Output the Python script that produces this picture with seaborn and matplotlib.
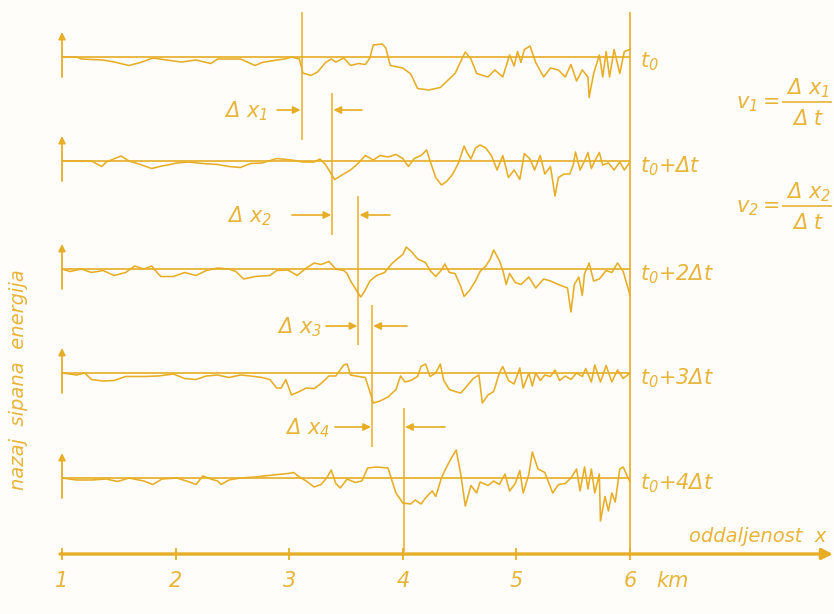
import matplotlib
matplotlib.use("Agg")
import matplotlib.pyplot as plt
import numpy as np
import pandas as pd
import seaborn as sns

# backscattered energy traces:
# position along the path (km) and energy relative to each trace's zero line
t0_km = [1.00, 1.13, 1.17, 1.36, 1.46, 1.59, 1.69, 1.80, 1.92, 2.05, 2.18, 2.31, 2.37, 2.57, 2.70,
         2.76, 2.89, 2.96, 3.02, 3.09, 3.12, 3.19, 3.25, 3.32, 3.37, 3.41, 3.48, 3.54, 3.61, 3.67,
         3.71, 3.74, 3.82, 3.85, 3.89, 4.00, 4.07, 4.13, 4.23, 4.33, 4.39, 4.46, 4.52, 4.55, 4.60,
         4.65, 4.75, 4.81, 4.88, 4.94, 4.98, 5.01, 5.04, 5.07, 5.12, 5.17, 5.24, 5.30, 5.37, 5.43,
         5.48, 5.53, 5.58, 5.63, 5.64, 5.68, 5.73, 5.76, 5.79, 5.82, 5.86, 5.91, 5.95, 6.00]
t0_e = [0, 0, -2, -3, -5, -8.5, -5.5, -1, -3, -5, -3, -6.5, -2, -2, -8.5,
        -5.5, -3, -2, 0, -2, -16, -18.5, -15, -5.5, -2, -5, -1, -8.5, -6.5, -7.5,
        -1, 12, 13, 9, -8.5, -11, -17, -31.5, -33, -30.5, -24, -16.5, -2, 5, -2,
        -16.5, -20, -13, -20, 2, -9, 5.5, -5.5, 7.5, 11, -5.5, -20, -11, -13, -20,
        -7.5, -24, -13, -20, -40.5, -16.5, 2, -20, 5.5, -20, 7.5, -16.5, 5.5, 7.5]

t1_km = [1.00, 1.13, 1.26, 1.35, 1.39, 1.52, 1.59, 1.69, 1.79, 1.88, 1.95, 2.01, 2.11, 2.24, 2.37,
         2.47, 2.57, 2.66, 2.76, 2.89, 3.02, 3.12, 3.22, 3.27, 3.32, 3.37, 3.40, 3.45, 3.54, 3.61,
         3.67, 3.74, 3.80, 3.87, 3.94, 4.00, 4.05, 4.10, 4.16, 4.21, 4.24, 4.29, 4.34, 4.39, 4.44,
         4.49, 4.54, 4.57, 4.60, 4.64, 4.68, 4.73, 4.78, 4.83, 4.88, 4.93, 4.98, 5.03, 5.07, 5.12,
         5.16, 5.21, 5.25, 5.30, 5.34, 5.37, 5.42, 5.47, 5.50, 5.52, 5.56, 5.60, 5.63, 5.66, 5.69,
         5.73, 5.76, 5.81, 5.86, 5.91, 5.95, 6.00]
t1_e = [0, 0, 0, -5.5, -1, 5, 0, -3.5, -7.5, -5, -3.5, -2, -1, -2.5, -3.5,
        -5.5, -6.5, -2.5, -2, 2.5, 1, -1, -1, 2, -3.5, -13, -18.5, -15, -9, -2,
        5.5, 1, 5.5, 4, 6.5, 2.5, -5.5, 2.5, 5.5, 11, 0, -16.5, -24, -20, -13,
        -2, 15, 7.5, 2, 13, 16, 13, 5.5, -9, 5.5, -16.5, -9, -18.5, 7.5, 2,
        -9, 5.5, -13, -5.5, -35, -16.5, -13, -13, -4, 9, -9, 0, 8.5, -7.5, 0,
        8.5, -4, -2, -9, -1, -9, -1]

t2_km = [1.00, 1.07, 1.17, 1.26, 1.36, 1.46, 1.56, 1.64, 1.72, 1.79, 1.83, 1.87, 1.98, 2.08, 2.18,
         2.27, 2.37, 2.47, 2.53, 2.60, 2.70, 2.83, 2.89, 2.99, 3.07, 3.15, 3.22, 3.28, 3.35, 3.41,
         3.48, 3.51, 3.54, 3.59, 3.63, 3.66, 3.71, 3.77, 3.84, 3.90, 3.95, 4.00, 4.03, 4.08, 4.13,
         4.20, 4.24, 4.29, 4.34, 4.37, 4.41, 4.46, 4.51, 4.54, 4.59, 4.64, 4.68, 4.73, 4.77, 4.80,
         4.85, 4.88, 4.91, 4.94, 4.99, 5.04, 5.11, 5.17, 5.24, 5.30, 5.37, 5.45, 5.48, 5.51, 5.55,
         5.58, 5.60, 5.63, 5.64, 5.68, 5.73, 5.79, 5.84, 5.89, 5.94, 6.00]
t2_e = [0, -2.5, 0, -3.5, -1.5, -6.5, -3.5, 3, 0, 3, -2.5, -7.5, -7.5, -3.5, -6.5,
        -1.5, 1, 0, -2.5, -10, -7.5, -6.5, -1.5, -1, -6.5, 1, 6, 4.5, 7.5, 0,
        -1.5, -4.5, -12, -21, -28, -23, -12, -6.5, -3.5, 5, 10, 14.5, 22, 17, 10,
        6.5, -1.5, -7.5, -1, 5, -3.5, -4.5, -17.5, -27.5, -21, -12, -2.5, 3, 10, 19,
        8.5, -1, -15.5, -4.5, -13.5, -15.5, -8, -19, -10, -12, -15.5, -19, -43, -15.5, -8,
        -26.5, -4.5, 3, 6, -12, -10, -1.5, -3.5, 6, -2.5, -26]

t3_km = [1.00, 1.07, 1.13, 1.20, 1.26, 1.36, 1.46, 1.56, 1.72, 1.85, 1.98, 2.08, 2.18, 2.27, 2.37,
         2.47, 2.57, 2.66, 2.76, 2.83, 2.89, 2.93, 2.97, 3.02, 3.09, 3.15, 3.22, 3.28, 3.35, 3.41,
         3.48, 3.51, 3.54, 3.61, 3.67, 3.71, 3.74, 3.80, 3.87, 3.94, 3.98, 4.02, 4.07, 4.13, 4.16,
         4.20, 4.24, 4.29, 4.33, 4.36, 4.41, 4.46, 4.51, 4.55, 4.62, 4.67, 4.70, 4.75, 4.80, 4.85,
         4.88, 4.93, 4.98, 5.03, 5.06, 5.11, 5.14, 5.17, 5.21, 5.25, 5.30, 5.34, 5.38, 5.43, 5.48,
         5.53, 5.58, 5.61, 5.66, 5.69, 5.74, 5.79, 5.84, 5.89, 5.94, 6.00]
t3_e = [0, -1, -2, 0, -6.5, -8, -7.5, -3.5, -3.5, -3, -1, -5.5, -6.5, -3, -2,
        -4.5, -2, -3, -4.5, -6.5, -15, -15, -6.5, -22, -18.5, -15, -15.5, -10.5, -3, -3,
        8, 9, -2, -3.5, -4.5, -18.5, -30, -28, -24, -16.5, -3, -9, -7.5, -3.5, 6.5,
        9, -3.5, 0, 9, -7.5, -16.5, -18.5, -20, -15, -5.5, -2, -30, -22, -18.5, 0,
        6.5, -7.5, -11, 5, -15, 0, -13, 0, -7.5, -2, -3.5, 3, -7.5, -3, -6.5,
        0, -3.5, 4.5, -9, 8, -9, 7.5, -9, 3, -5.5, 0]

t4_km = [1.00, 1.13, 1.26, 1.39, 1.49, 1.59, 1.72, 1.80, 1.88, 2.01, 2.11, 2.18, 2.24, 2.31, 2.37,
         2.40, 2.47, 2.57, 2.70, 2.86, 2.99, 3.04, 3.09, 3.15, 3.22, 3.28, 3.33, 3.37, 3.41, 3.45,
         3.51, 3.58, 3.64, 3.69, 3.77, 3.87, 3.90, 3.94, 4.00, 4.07, 4.11, 4.16, 4.21, 4.26, 4.29,
         4.34, 4.37, 4.42, 4.47, 4.51, 4.55, 4.60, 4.65, 4.68, 4.75, 4.80, 4.85, 4.90, 4.94, 4.99,
         5.03, 5.06, 5.11, 5.14, 5.19, 5.25, 5.32, 5.37, 5.43, 5.48, 5.53, 5.56, 5.60, 5.63, 5.66,
         5.69, 5.73, 5.74, 5.78, 5.81, 5.84, 5.87, 5.91, 5.94, 6.00]
t4_e = [0, -2, -2, -1, -3.5, 0, -3, -6.5, -1, 0, -3.5, -6.5, 2, -1, -3,
        -6.5, -2, 0, 1, 3, 4.5, 5.5, 1, -3, -9, -6.5, 0, 8, -5.5, -10,
        -1, -4.5, -3, 10, 11, 10, -1, -15, -25, -26, -22, -26, -18.5, -13, -18.5,
        0, 7.5, 18.5, 28, 4, -28, -7.5, -15, -4, -7.5, -3, -6.5, 4, -13, -5.5,
        7.5, -15, 4, 26, 9, 5.5, -15, -6.5, -5.5, 0, 9, -13, 11, -11, 9,
        -15, 4, -43, -18.5, -33, -15, -24, 9, 11, -4]

trace_labels = [r"$t_0$", r"$t_0$+Δt", r"$t_0$+2Δt", r"$t_0$+3Δt", r"$t_0$+4Δt"]
marker_km = [3.11, 3.38, 3.61, 3.73, 4.01]   # position of the moving dip on each trace
dx_labels = [r"Δ $x_1$", r"Δ $x_2$", r"Δ $x_3$", r"Δ $x_4$"]
km_ticks = [1, 2, 3, 4, 5, 6]

COL = "#e7ad26"
TXT = "#e8b43a"
BG = "#fefdf9"

sns.set_theme(style="white")
plt.rcParams["font.family"] = ["DejaVu Sans"]
plt.rcParams["font.style"] = "italic"
plt.rcParams["mathtext.fontset"] = "custom"
plt.rcParams["mathtext.rm"] = "DejaVu Sans:italic"
plt.rcParams["mathtext.it"] = "DejaVu Sans:italic"
plt.rcParams["mathtext.bf"] = "DejaVu Sans:italic"


def km(px):
    # layout helper: picture column -> km on the distance axis
    return 1 + (px - 62) / 113.6


baselines = [57, 161, 269, 373, 478]
traces = [(t0_km, t0_e), (t1_km, t1_e), (t2_km, t2_e), (t3_km, t3_e), (t4_km, t4_e)]
rows = []
for i, (xs, es) in enumerate(traces):
    for x, e in zip(xs, es):
        rows.append({"km": x, "y": baselines[i] - e, "trace": i})
df = pd.DataFrame(rows)

fig = plt.figure(figsize=(8.34, 6.14), dpi=100, facecolor=BG)
ax = fig.add_axes([0, 0, 1, 1])
ax.set_facecolor(BG)

sns.lineplot(data=df, x="km", y="y", units="trace", estimator=None, sort=False,
             color=COL, lw=1.15, ax=ax, legend=False)

ax.set_xlim(km(0), km(834))
ax.set_ylim(614, 0)
ax.axis("off")

# zero lines, small energy arrows on the left
ax.hlines(baselines, 1, 6, color=COL, lw=1.2)
for b in baselines:
    ax.annotate("", xy=(1, b - 25), xytext=(1, b + 20),
                arrowprops=dict(arrowstyle="-|>", color=COL, lw=1.3, mutation_scale=10,
                                shrinkA=0, shrinkB=0))

# right-hand limit at 6 km
ax.vlines(6, 12, 555, color=COL, lw=1.2)

# markers through the dip
spans = [(12, 140), (93, 235), (196, 345), (305, 447), (408, 552)]
for mk, (ya, yb) in zip(marker_km, spans):
    ax.vlines(mk, ya, yb, color=COL, lw=1.1)

# delta x arrows
dx_y = [110, 215, 326, 427]
arr_start = [277, 292, 326, 335]
arr_end_r = [362, 390, 407, 445]
lab_right = [268, 272, 322, 330]
for i in range(4):
    y = dx_y[i]
    ax.annotate("", xy=(marker_km[i] - 0.01, y), xytext=(km(arr_start[i]), y),
                arrowprops=dict(arrowstyle="-|>", color=COL, lw=1.2, mutation_scale=11,
                                shrinkA=0, shrinkB=0))
    ax.annotate("", xy=(marker_km[i + 1] + 0.01, y), xytext=(km(arr_end_r[i]), y),
                arrowprops=dict(arrowstyle="-|>", color=COL, lw=1.2, mutation_scale=11,
                                shrinkA=0, shrinkB=0))
    ax.text(km(lab_right[i]), y + 1, dx_labels[i], color=TXT, fontsize=15,
            ha="right", va="center")

# time labels on the right
for b, lab in zip(baselines, trace_labels):
    ax.text(km(640), b + 5, lab, color=TXT, fontsize=15, ha="left", va="center")

# velocity formulas
for j, yy in enumerate([102, 206]):
    ax.text(km(736), yy + 2, r"$v_%d$" % (j + 1), color=TXT, fontsize=15, ha="left", va="center")
    ax.text(km(763), yy, "=", color=TXT, fontsize=15, ha="left", va="center")
    ax.hlines(yy, km(782), km(832), color=TXT, lw=1.2)
    ax.text(km(808), yy - 14, r"Δ $x_%d$" % (j + 1), color=TXT, fontsize=15,
            ha="center", va="center")
    ax.text(km(808), yy + 17, "Δ t", color=TXT, fontsize=15, ha="center", va="center")

# distance axis
ax.annotate("", xy=(km(833), 554), xytext=(km(60), 554),
            arrowprops=dict(arrowstyle="-|>", color=COL, lw=2.4, mutation_scale=16,
                            shrinkA=0, shrinkB=0))
ax.vlines(km_ticks, 548, 560, color=COL, lw=1.3)
for k in km_ticks:
    ax.text(k, 581, str(k), color=TXT, fontsize=15, ha="center", va="center")
ax.text(km(656), 581, "km", color=TXT, fontsize=15, ha="left", va="center")
ax.text(km(826), 537, "oddaljenost  x", color=TXT, fontsize=14, ha="right", va="center")

ax.text(km(19), 380, "nazaj  sipana  energija", color=TXT, fontsize=14, rotation=90,
        ha="center", va="center")

fig.savefig("out.png", dpi=100, facecolor=BG)
